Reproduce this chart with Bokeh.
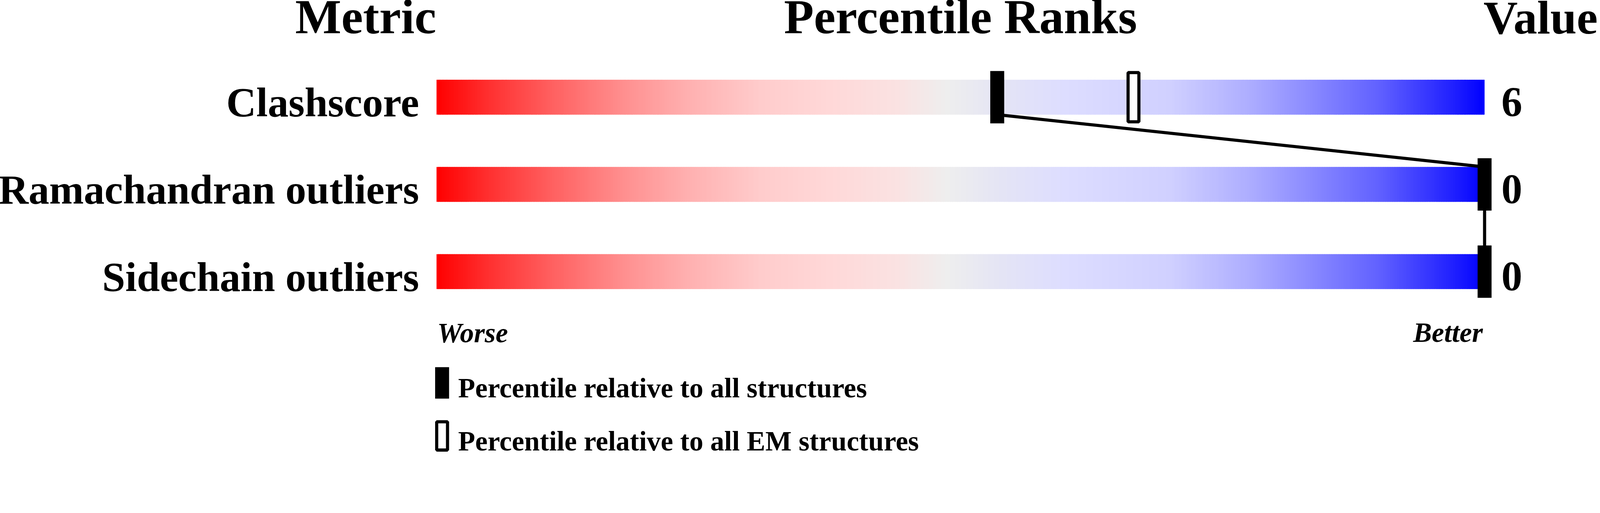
from bokeh.plotting import figure
from bokeh.models import Range1d, ColumnDataSource
from bokeh.core.properties import value
from bokeh.embed import file_html
from bokeh.resources import INLINE

# ---------------- data ----------------
metrics = ["Clashscore", "Ramachandran outliers", "Sidechain outliers"]
metric_values = ["6", "0", "0"]
pct_all = [53.5, 100, 100]          # percentile relative to all structures
pct_em = [66.5, None, None]         # percentile relative to all EM structures
headers = ["Metric", "Percentile Ranks", "Value"]
scale_ends = ["Worse", "Better"]
legend_labels = ["Percentile relative to all structures",
                 "Percentile relative to all EM structures"]

# ---------------- layout / style ----------------
K = 1.12                       # device px per CSS px observed in the photograph
REF_W, REF_H = 4608, 1313      # target picture size (device px)
W = int(REF_W / K) - 8
H = int(REF_H / K) - 8
BASE_SHIFT = 0.31              # rendered text sits this many em lower than asked


def css(v):
    return v / K


PX_PER_PCT = 30.05      # device px per percentile point
ROW_PX = 250            # device px per row
X0_PAGE, Y0_PAGE = 1260, 287   # device position of 0 % / first row centre
FONT = value("Liberation Serif")

# figure is shifted onto the page origin (see styles below)
x_start = (0 - X0_PAGE) / PX_PER_PCT
x_end = (W * K - X0_PAGE) / PX_PER_PCT
y_top = (0 - Y0_PAGE) / ROW_PX
y_bottom = (H * K - Y0_PAGE) / ROW_PX


def fs(v):
    return "%.1fpx" % css(v)


def base_y(dev_y, size):
    """row-unit y for a text whose baseline should land at device y."""
    return (dev_y - BASE_SHIFT * size - Y0_PAGE) / ROW_PX


p = figure(width=W, height=H,
           x_range=Range1d(x_start, x_end), y_range=Range1d(y_bottom, y_top),
           output_backend="svg", toolbar_location=None, min_border=0,
           x_axis_location=None, y_axis_location=None,
           outline_line_color=None, background_fill_color="white",
           border_fill_color="white",
           styles={"position": "relative", "top": "-8px", "left": "-8px"})
p.xgrid.visible = False
p.ygrid.visible = False

# gradient colour stops (position 0..1, rgb)
stops = [(0.0, (255, 0, 0)), (0.05, (255, 48, 48)), (0.11, (255, 96, 96)),
         (0.18, (255, 144, 144)), (0.24, (255, 176, 176)), (0.31, (255, 204, 204)),
         (0.375, (255, 216, 216)), (0.44, (250, 226, 226)), (0.487, (238, 238, 238)),
         (0.54, (228, 228, 245)), (0.60, (221, 221, 255)), (0.70, (208, 208, 255)),
         (0.77, (176, 176, 255)), (0.837, (136, 136, 255)), (0.90, (96, 96, 255)),
         (0.97, (32, 32, 255)), (1.0, (0, 0, 255))]


def grad_color(t):
    for (t0, c0), (t1, c1) in zip(stops[:-1], stops[1:]):
        if t <= t1:
            f = 0 if t1 == t0 else (t - t0) / (t1 - t0)
            r, g, b = (round(a + (bb - a) * f) for a, bb in zip(c0, c1))
            return "#%02x%02x%02x" % (r, g, b)
    return "#0000ff"


N = 600
step = 100.0 / N
left, right, top, bottom, colors = [], [], [], [], []
for r in range(len(metrics)):
    for k in range(N):
        l = k * step
        left.append(l)
        right.append(min(100.0, l + step * 1.6))
        top.append(r - 0.2)
        bottom.append(r + 0.2)
        colors.append(grad_color((k + 0.5) / N))
p.quad(left=left, right=right, top=top, bottom=bottom,
       fill_color=colors, line_color=None)

# connecting lines between consecutive markers
seg = ColumnDataSource(dict(
    x0=pct_all[:-1], y0=[i + 0.2 for i in range(len(pct_all) - 1)],
    x1=pct_all[1:], y1=[i + 0.8 for i in range(len(pct_all) - 1)]))
p.segment(x0="x0", y0="y0", x1="x1", y1="y1", source=seg,
          line_color="black", line_width=css(9), line_cap="butt")

# EM percentile markers (hollow)
em_x = [v for v in pct_em if v is not None]
em_y = [i for i, v in enumerate(pct_em) if v is not None]
p.rect(x=em_x, y=em_y, width=css(31), height=css(141), width_units="screen",
       height_units="screen", fill_color="white", line_color="black",
       line_width=css(9))

# all-structure percentile markers (filled)
p.rect(x=pct_all, y=list(range(len(pct_all))), width=css(40), height=css(150),
       width_units="screen", height_units="screen", fill_color="black",
       line_color=None)

rows = list(range(len(metrics)))
# metric names (baseline at bar bottom)
p.text(x=[0] * len(metrics), y=[base_y(Y0_PAGE + 52 + ROW_PX * r, 119) for r in rows],
       text=metrics, x_offset=css(-50), text_align="right",
       text_baseline="alphabetic", text_font=FONT, text_font_style="bold",
       text_font_size=fs(119))
# values
p.text(x=[100] * len(metric_values),
       y=[base_y(Y0_PAGE + 51 + ROW_PX * r, 120) for r in rows],
       text=metric_values, x_offset=css(48), text_align="left",
       text_baseline="alphabetic", text_font=FONT, text_font_style="bold",
       text_font_size=fs(120))

# headers
p.text(x=[0], y=[base_y(100, 140)], text=[headers[0]], x_offset=css(-1),
       text_align="right", text_baseline="alphabetic", text_font=FONT,
       text_font_style="bold", text_font_size=fs(140))
p.text(x=[50], y=[base_y(100, 140)], text=[headers[1]], text_align="center",
       text_baseline="alphabetic", text_font=FONT, text_font_style="bold",
       text_font_size=fs(140))
p.text(x=[100], y=[base_y(101, 136)], text=[headers[2]], x_offset=css(-3),
       text_align="left", text_baseline="alphabetic", text_font=FONT,
       text_font_style="bold", text_font_size=fs(136))

# Worse / Better
p.text(x=[0], y=[base_y(987, 80)], text=[scale_ends[0]], x_offset=css(2),
       text_align="left", text_baseline="alphabetic", text_font=FONT,
       text_font_style="bold italic", text_font_size=fs(80))
p.text(x=[100], y=[base_y(986, 80)], text=[scale_ends[1]], x_offset=css(-5),
       text_align="right", text_baseline="alphabetic", text_font=FONT,
       text_font_style="bold italic", text_font_size=fs(80))

# legend
box_x = 16 / PX_PER_PCT
ly1 = (1106 - Y0_PAGE) / ROW_PX
ly2 = (1258 - Y0_PAGE) / ROW_PX
p.rect(x=[box_x], y=[ly1], width=css(40), height=css(90), width_units="screen",
       height_units="screen", fill_color="black", line_color=None)
p.rect(x=[box_x], y=[ly2], width=css(31), height=css(81), width_units="screen",
       height_units="screen", fill_color="white", line_color="black",
       line_width=css(9))
p.text(x=[0, 0], y=[base_y(1145, 80), base_y(1297, 80)],
       text=legend_labels, x_offset=css(62), text_align="left",
       text_baseline="alphabetic", text_font=FONT, text_font_style="bold",
       text_font_size=fs(80))

open("out.html", "w").write(file_html(p, INLINE))
